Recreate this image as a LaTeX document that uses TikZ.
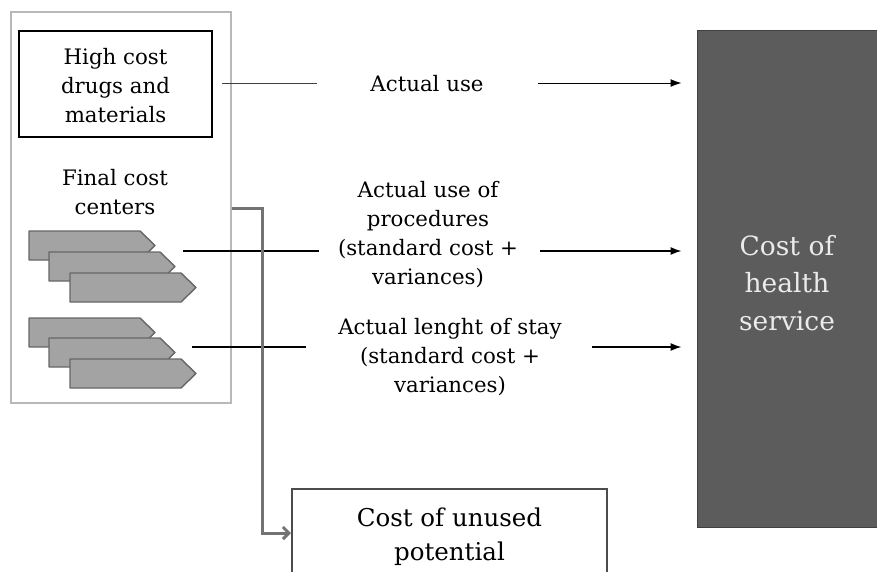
\documentclass[tikz,border=0pt]{standalone}
\usepackage{fontspec}
\setmainfont{DejaVu Serif}
\usetikzlibrary{arrows.meta}
\definecolor{outerc}{gray}{0.72}
\definecolor{chevfill}{gray}{0.64}
\definecolor{chevdraw}{gray}{0.40}
\definecolor{bigfill}{gray}{0.36}
\definecolor{bigdraw}{gray}{0.25}
\definecolor{bigtext}{gray}{0.92}
\definecolor{connc}{gray}{0.45}
\definecolor{unusedc}{gray}{0.30}
\tikzset{
  txt/.style={align=center, inner sep=0pt, font=\fontsize{21.3}{29}\selectfont},
  arr/.style={-{Latex[length=11pt,width=8pt]}, line width=1.3pt},
  plain/.style={line width=1.3pt},
  chev/.style={fill=chevfill, draw=chevdraw, line width=1.4pt, line join=round}
}
\newcommand{\chevron}[2]{%
  \draw[chev] (#1,#2) -- ++(111,0) -- ++(15,14.5) -- ++(-15,14.5) -- ++(-111,0) -- cycle;}
\begin{document}
\begin{tikzpicture}[x=1pt,y=-1pt]
\useasboundingbox (0,0) rectangle (877,571);
\clip (0,0) rectangle (877,571);
\fill[white] (0,0) rectangle (877,571);

% outer group box
\node[draw=outerc, line width=2pt, minimum width=220pt, minimum height=391pt, inner sep=0pt] (outer) at (121,207.5) {};
% high cost box
\node[draw=black, line width=2.5pt, minimum width=193pt, minimum height=106pt, inner sep=0pt] (hc) at (115.5,84) {};
\node[txt] (hctext) at (115.5,86) {High cost\\drugs and\\materials};
\node[txt] (fcc) at (115,192) {Final cost\\centers};

% chevrons
\chevron{29}{231}
\chevron{49}{252}
\chevron{70}{273}
\chevron{29}{318}
\chevron{49}{338}
\chevron{70}{359}

% big box
\node[fill=bigfill, draw=bigdraw, line width=1pt, minimum width=190pt, minimum height=497pt, inner sep=0pt] (chs) at (792,278.5) {};
\node[align=center, inner sep=0pt, text=bigtext, font=\fontsize{26.5}{37.5}\selectfont] (chstext) at (787,283) {Cost of\\health\\service};

% unused box
\node[draw=unusedc, line width=2pt, minimum width=315pt, minimum height=100pt, inner sep=0pt] (unused) at (449.5,539) {};
\node[align=center, inner sep=0pt, font=\fontsize{24.5}{34}\selectfont] (unusedtext) at (449.5,537) {Cost of unused\\potential};

% labels
\node[txt] (lbl1) at (427,84) {Actual use};
\node[txt] (lbl2) at (428,235) {Actual use of\\procedures\\(standard cost +\\variances)};
\node[txt] (lbl3) at (450,357) {Actual lenght of stay\\(standard cost +\\variances)};

% coordinates for connector ends
\coordinate (a1) at (222,83);
\coordinate (b1) at (317,83);
\coordinate (c1) at (538,83);
\coordinate (a2) at (183,251);
\coordinate (b2) at (319,251);
\coordinate (c2) at (540,251);
\coordinate (a3) at (192,347);
\coordinate (b3) at (306,347);
\coordinate (c3) at (592,347);

\draw[line width=1pt, draw=black!75] (a1) -- (b1);
\draw[arr, line width=1pt] (c1) -- ([xshift=-15pt]chs.west |- c1);
\draw[plain] (a2) -- (b2);
\draw[arr] (c2) -- ([xshift=-15pt]chs.west |- c2);
\draw[plain] (a3) -- (b3);
\draw[arr] (c3) -- ([xshift=-15pt]chs.west |- c3);

% unused connector
\coordinate (ob) at (outer.east |- 0,208);
\draw[draw=connc, line width=3pt, line join=miter, -{Straight Barb[length=6pt,width=12pt]}] (ob) -- (262,208) -- (262,533) -- (unused.west |- 0,533);
\end{tikzpicture}
\end{document}
